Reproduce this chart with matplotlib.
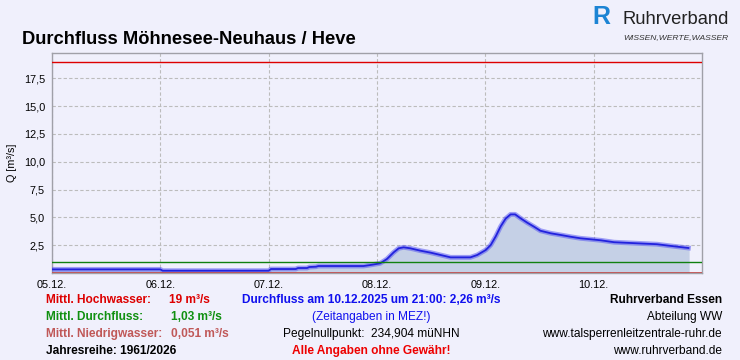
import matplotlib
matplotlib.use("Agg")
import matplotlib.pyplot as plt

plt.rcParams['font.family'] = ['Liberation Sans', 'DejaVu Sans']

# hours since 05.12. 00:00 and discharge in m3/s
hours = [0, 24, 24.5, 48, 48.5, 54, 54.5, 56.5, 57, 58.5, 59, 66, 69, 70.5, 72.7,
         74.2, 75.7, 76.8, 77.9, 79.4, 81.6, 83.9, 86.1, 88.3, 92.7, 94.2, 96.1,
         97.2, 98.3, 99.4, 100.5, 101.6, 102.6, 103.8, 105.3, 106.8, 108.2, 110.5,
         112.7, 114.9, 117.1, 119.4, 121.6, 124.5, 129.7, 134, 137, 141]
flow = [0.34, 0.34, 0.22, 0.22, 0.37, 0.37, 0.46, 0.46, 0.55, 0.58, 0.64, 0.64, 0.64,
        0.73, 0.88, 1.27, 1.87, 2.23, 2.32, 2.23, 2.02, 1.84, 1.63, 1.42, 1.42, 1.63,
        2.08, 2.53, 3.3, 4.2, 4.9, 5.28, 5.28, 4.93, 4.53, 4.17, 3.81, 3.58, 3.43,
        3.27, 3.13, 3.04, 2.95, 2.78, 2.68, 2.6, 2.45, 2.26]

day_labels = ['05.12.', '06.12.', '07.12.', '08.12.', '09.12.', '10.12.']
yticks = [2.5, 5.0, 7.5, 10.0, 12.5, 15.0, 17.5]

mhq = 19.0
mq = 1.03
mnq = 0.051

bg = '#f0f0fc'
fig = plt.figure(figsize=(7.4, 3.6), dpi=100)
fig.patch.set_facecolor(bg)
ax = fig.add_axes([0.0703, 0.2425, 0.8783, 0.6095])
ax.set_facecolor(bg)

ax.set_xlim(0, 144)
ax.set_ylim(0.04, 19.75)

ax.fill_between(hours, flow, 0.04, color='#c5d0e6', zorder=2)
ax.plot(hours, flow, color='#5a5af0', lw=3.5, alpha=0.55, zorder=3)
ax.plot(hours, flow, color='#2222dd', lw=1.3, zorder=4)

ax.axhline(mhq, color='#dd0000', lw=1, zorder=5)
ax.axhline(mq, color='#108010', lw=1, zorder=5)
ax.axhline(mnq, color='#c05050', lw=2, zorder=5)

ax.set_xticks([24 * i for i in range(len(day_labels))])
ax.set_xticklabels(day_labels)
ax.set_yticks(yticks)
ax.set_yticklabels([('%.1f' % v).replace('.', ',') for v in yticks])
ax.tick_params(length=0, labelsize=7.8, pad=5, colors='black')
ax.grid(True, color='#bcbcbc', ls=(0, (3, 2)), lw=0.8, zorder=1)
for s in ax.spines.values():
    s.set_color('#a0a0a8')
    s.set_linewidth(1)
ax.set_ylabel('Q [m³/s]', fontsize=7.8, labelpad=5)

fig.text(22 / 740, 1 - 40 / 360, 'Durchfluss Möhnesee-Neuhaus / Heve',
         fontsize=13.2, fontweight='bold', va='center')

# logo
fig.text(592 / 740, 1 - 17 / 360, 'R', fontsize=18, fontweight='bold',
         color='#1c84d4', va='center', ha='left')
fig.text(622 / 740, 1 - 20 / 360, 'Ruhrverband', fontsize=13.2,
         color='#222222', va='center', ha='left')
fig.text(623 / 740, 1 - 38 / 360, 'WISSEN,WERTE,WASSER', fontsize=6.1,
         style='italic', color='#333333', va='center', ha='left')

fs = 8.6
rows = [300, 317, 334, 351]
yf = [1 - r / 360 for r in rows]

fig.text(46 / 740, yf[0], 'Mittl. Hochwasser:', color='#dd0000', fontsize=fs, fontweight='bold', va='center')
fig.text(169 / 740, yf[0], '19 m³/s', color='#dd0000', fontsize=fs, fontweight='bold', va='center')
fig.text(46 / 740, yf[1], 'Mittl. Durchfluss:', color='#109010', fontsize=fs, fontweight='bold', va='center')
fig.text(171 / 740, yf[1], '1,03 m³/s', color='#109010', fontsize=fs, fontweight='bold', va='center')
fig.text(46 / 740, yf[2], 'Mittl. Niedrigwasser:', color='#c05858', fontsize=fs, fontweight='bold', va='center')
fig.text(171 / 740, yf[2], '0,051 m³/s', color='#c05858', fontsize=fs, fontweight='bold', va='center')
fig.text(46 / 740, yf[3], 'Jahresreihe: 1961/2026', color='black', fontsize=fs, fontweight='bold', va='center')

cx = 371 / 740
fig.text(cx, yf[0], 'Durchfluss am 10.12.2025 um 21:00: 2,26 m³/s', color='#1010ee',
         fontsize=fs, fontweight='bold', va='center', ha='center')
fig.text(cx, yf[1], '(Zeitangaben in MEZ!)', color='#1010ee', fontsize=fs, va='center', ha='center')
fig.text(cx, yf[2], 'Pegelnullpunkt:  234,904 müNHN', color='black', fontsize=fs, va='center', ha='center')
fig.text(cx, yf[3], 'Alle Angaben ohne Gewähr!', color='#ee0000', fontsize=fs,
         fontweight='bold', va='center', ha='center')

rx = 722 / 740
fig.text(rx, yf[0], 'Ruhrverband Essen', fontsize=fs, fontweight='bold', va='center', ha='right')
fig.text(rx, yf[1], 'Abteilung WW', fontsize=fs, va='center', ha='right')
fig.text(rx, yf[2], 'www.talsperrenleitzentrale-ruhr.de', fontsize=fs, va='center', ha='right')
fig.text(rx, yf[3], 'www.ruhrverband.de', fontsize=fs, va='center', ha='right')

fig.savefig('out.png', dpi=100, facecolor=bg)
